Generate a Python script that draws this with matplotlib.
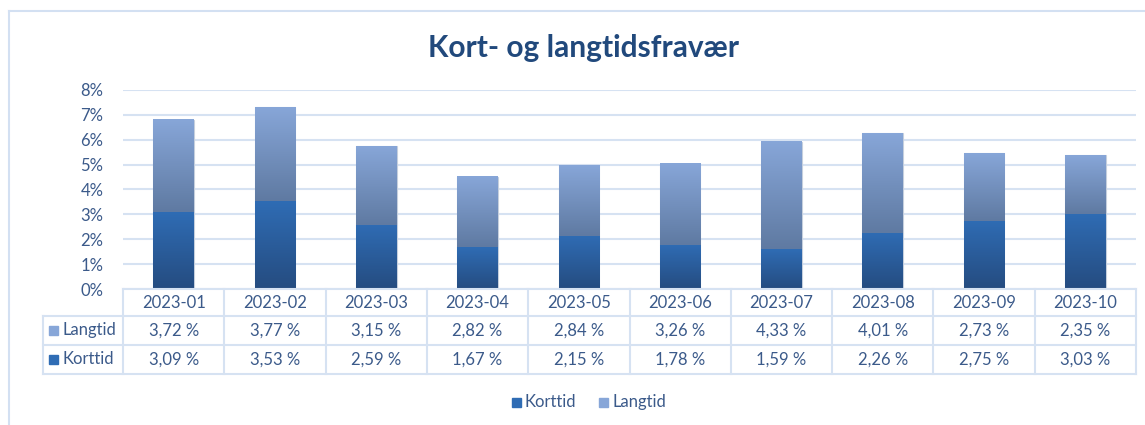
import matplotlib.pyplot as plt
import numpy as np
from matplotlib.colors import LinearSegmentedColormap
from matplotlib.patches import Rectangle

plt.rcParams['font.family'] = ['Lato', 'DejaVu Sans']

months = ["2023-01", "2023-02", "2023-03", "2023-04", "2023-05",
          "2023-06", "2023-07", "2023-08", "2023-09", "2023-10"]
korttid = [3.09, 3.53, 2.59, 1.67, 2.15, 1.78, 1.59, 2.26, 2.75, 3.03]
langtid = [3.72, 3.77, 3.15, 2.82, 2.84, 3.26, 4.33, 4.01, 2.73, 2.35]

W, H = 1145, 425
TEXT = "#3b5a8a"
GRID = "#d6e2f2"
KORT_TOP, KORT_BOT = "#2f6cb4", "#254c80"
LANG_TOP, LANG_BOT = "#87a6d8", "#5f7aa2"


def px(x, y):
    # pixel coords (from top-left) -> figure coords
    return x / W, 1 - y / H


fig = plt.figure(figsize=(W / 100, H / 100), dpi=100)
ax = fig.add_axes([123 / W, (H - 289) / H, (1136 - 123) / W, (289 - 90) / H])

x = np.arange(len(months))
k = np.array(korttid) / 100
l = np.array(langtid) / 100

bars_k = ax.bar(x, k, width=0.4, color="none", zorder=3)
bars_l = ax.bar(x, l, width=0.4, bottom=k, color="none", zorder=3)


def gradient_fill(rects, top, bot):
    cmap = LinearSegmentedColormap.from_list("g", [bot, top])
    grad = np.linspace(0, 1, 100).reshape(-1, 1)
    for r in rects:
        x0, y0 = r.get_x(), r.get_y()
        w, h = r.get_width(), r.get_height()
        ax.imshow(grad, cmap=cmap, origin="lower", aspect="auto",
                  extent=(x0, x0 + w, y0, y0 + h), zorder=3)
        ax.add_patch(Rectangle((x0, y0), w, h, fill=False, lw=0.8,
                               ec="#c5cfdd", zorder=2.9))


gradient_fill(bars_k, KORT_TOP, KORT_BOT)
gradient_fill(bars_l, LANG_TOP, LANG_BOT)

ax.set_xlim(-0.5, len(months) - 0.5)
ax.set_ylim(0, 0.08)
ax.set_yticks(np.arange(0, 0.081, 0.01))
ax.set_yticklabels([f"{int(round(v * 100))}%" for v in np.arange(0, 0.081, 0.01)],
                   color=TEXT, fontsize=12)
ax.tick_params(axis="y", length=0, pad=14)
ax.set_xticks([])
ax.grid(axis="y", color=GRID, lw=1.5, zorder=0)
for s in ax.spines.values():
    s.set_visible(False)

# data table below the plot
rows = [289, 316, 345, 374]
col_x = [123 + i * (1136 - 123) / len(months) for i in range(len(months) + 1)]
lk = dict(color=GRID, lw=1.5, transform=fig.transFigure)
for i, yy in enumerate(rows):
    x0 = 123 if i == 0 else 43
    fig.add_artist(plt.Line2D([px(x0, 0)[0], px(1136, 0)[0]], [px(0, yy)[1]] * 2, **lk))
for i, xx in enumerate(col_x):
    fig.add_artist(plt.Line2D([px(xx, 0)[0]] * 2, [px(0, 289)[1], px(0, 374)[1]], **lk))
fig.add_artist(plt.Line2D([px(43, 0)[0]] * 2, [px(0, 316)[1], px(0, 374)[1]], **lk))


def pct(v):
    return f"{v:.2f}".replace(".", ",") + " %"


for i, m in enumerate(months):
    cx = (col_x[i] + col_x[i + 1]) / 2
    fig.text(*px(cx, 302.5), m, ha="center", va="center", color=TEXT, fontsize=12)
    fig.text(*px(cx, 330.5), pct(langtid[i]), ha="center", va="center", color=TEXT, fontsize=12)
    fig.text(*px(cx, 359.5), pct(korttid[i]), ha="center", va="center", color=TEXT, fontsize=12)

for name, c, yy in [("Langtid", LANG_TOP, 330.5), ("Korttid", KORT_TOP, 359.5)]:
    fig.add_artist(Rectangle(px(49, yy + 4.5), 9 / W, 9 / H, color=c, transform=fig.transFigure))
    fig.text(*px(62, yy), name, ha="left", va="center", color=TEXT, fontsize=12)

# legend
for name, c, xx in [("Korttid", KORT_TOP, 512), ("Langtid", LANG_TOP, 599)]:
    fig.add_artist(Rectangle(px(xx, 407), 9 / W, 9 / H, color=c, transform=fig.transFigure))
    fig.text(*px(xx + 13, 402), name, ha="left", va="center", color=TEXT, fontsize=12)

fig.text(*px(583, 48), "Kort- og langtidsfravær", ha="center", va="center",
         color="#21497c", fontsize=21.5, fontweight="bold")

# chart border
bk = dict(color="#d3e0f2", lw=1.5, transform=fig.transFigure)
fig.add_artist(plt.Line2D([px(9, 0)[0], 1], [px(0, 11)[1]] * 2, **bk))
fig.add_artist(plt.Line2D([px(9, 0)[0]] * 2, [px(0, 11)[1], 0], **bk))

fig.savefig("out.png", dpi=100)
